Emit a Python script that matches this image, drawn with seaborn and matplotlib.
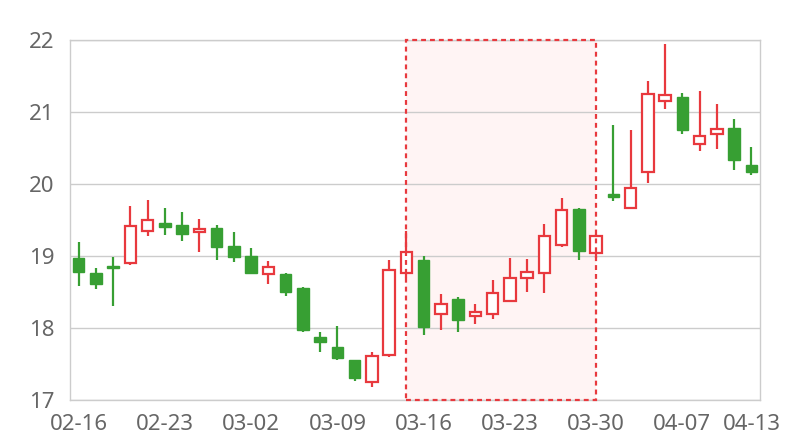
import matplotlib
matplotlib.use("Agg")
import matplotlib.pyplot as plt
import seaborn as sns
import numpy as np

dates = ["02-16", "02-17", "02-18", "02-19", "02-20",
         "02-23", "02-24", "02-25", "02-26", "02-27",
         "03-02", "03-03", "03-04", "03-05", "03-06",
         "03-09", "03-10", "03-11", "03-12", "03-13",
         "03-16", "03-17", "03-18", "03-19", "03-20",
         "03-23", "03-24", "03-25", "03-26", "03-27",
         "03-30", "03-31", "04-01", "04-02", "04-03",
         "04-07", "04-08", "04-09", "04-10", "04-13"]

open_ = [18.97, 18.76, 18.865, 18.90, 19.35, 19.46, 19.43, 19.33, 19.39, 19.14,
         19.00, 18.75, 18.75, 18.56, 17.88, 17.73, 17.55, 17.25, 17.63, 18.77,
         18.94, 18.19, 18.40, 18.17, 18.19, 18.37, 18.69, 18.76, 19.15, 19.65,
         19.04, 19.86, 19.66, 20.17, 21.15, 21.21, 20.56, 20.69, 20.78, 20.26]
close = [18.78, 18.61, 18.83, 19.42, 19.50, 19.40, 19.30, 19.375, 19.13, 18.99,
         18.77, 18.85, 18.50, 17.97, 17.80, 17.58, 17.31, 17.61, 18.81, 19.05,
         18.02, 18.33, 18.11, 18.22, 18.49, 18.70, 18.78, 19.28, 19.64, 19.07,
         19.28, 19.815, 19.95, 21.25, 21.24, 20.75, 20.67, 20.77, 20.34, 20.16]
low = [18.59, 18.54, 18.31, 18.88, 19.28, 19.29, 19.21, 19.05, 18.94, 18.91,
       18.76, 18.61, 18.45, 17.94, 17.67, 17.56, 17.27, 17.18, 17.60, 18.70,
       17.90, 17.97, 17.94, 18.06, 18.13, 18.36, 18.50, 18.48, 19.13, 18.94,
       18.97, 19.77, 19.66, 20.02, 21.04, 20.70, 20.46, 20.48, 20.19, 20.125]
high = [19.19, 18.83, 18.99, 19.70, 19.78, 19.67, 19.61, 19.52, 19.43, 19.33,
        19.11, 18.93, 18.76, 18.57, 17.95, 18.03, 17.56, 17.67, 18.94, 19.35,
        19.00, 18.47, 18.43, 18.34, 18.67, 18.97, 18.96, 19.45, 19.80, 19.66,
        19.31, 20.82, 20.75, 21.43, 21.94, 21.26, 21.29, 21.11, 20.90, 20.51]

highlight_start = "03-13"
highlight_end = "03-30"
tick_labels = ["02-16", "02-23", "03-02", "03-09", "03-16", "03-23", "03-30", "04-07", "04-13"]
y_ticks = [17, 18, 19, 20, 21, 22]

UP = "#e8393e"
DOWN = "#379f33"
GRID = "#cccccc"
TEXT = "#666666"

sns.set_theme(style="white")
plt.rcParams["font.family"] = ["Noto Sans", "DejaVu Sans"]

fig = plt.figure(figsize=(8, 4.4), dpi=100)
ax = fig.add_axes([70 / 800, 40 / 440, 690 / 800, 360 / 440])

x = np.arange(len(dates))
o = np.array(open_)
c = np.array(close)
lo = np.array(low)
hi = np.array(high)
up = c >= o

# highlighted area
xs = dates.index(highlight_start)
xe = dates.index(highlight_end)
ax.axvspan(xs, xe, facecolor="#fff4f4", edgecolor="none", zorder=0.2)
ax.axvspan(xs, xe, facecolor="none", edgecolor=UP, linestyle=(0, (2.2, 1.8)),
           linewidth=1.6, zorder=4, clip_on=False)

# wicks
ax.vlines(x[up], lo[up], hi[up], color=UP, linewidth=1.6, zorder=2)
ax.vlines(x[~up], lo[~up], hi[~up], color=DOWN, linewidth=1.6, zorder=2)

# bodies
w = 0.66
ax.bar(x[up], c[up] - o[up], bottom=o[up], width=w, facecolor="white",
       edgecolor=UP, linewidth=1.6, zorder=3)
ax.bar(x[~up], c[~up] - o[~up], bottom=o[~up], width=w, facecolor=DOWN,
       edgecolor=DOWN, linewidth=1.0, zorder=3)

ax.set_xlim(-0.5, len(dates) - 0.5)
ax.set_ylim(17, 22)
ax.set_yticks(y_ticks)
ax.set_yticklabels([str(v) for v in y_ticks])
ax.set_xticks([dates.index(t) for t in tick_labels])
ax.set_xticklabels(tick_labels)

ax.set_axisbelow(True)
ax.yaxis.grid(True, color=GRID, linewidth=1.0, zorder=0.5)
ax.xaxis.grid(False)
for s in ax.spines.values():
    s.set_color(GRID)
    s.set_linewidth(1.0)
ax.tick_params(axis="both", length=0, labelsize=16, colors=TEXT)
ax.tick_params(axis="x", pad=10)
ax.tick_params(axis="y", pad=11)

fig.savefig("out.png", dpi=100, facecolor="white")
